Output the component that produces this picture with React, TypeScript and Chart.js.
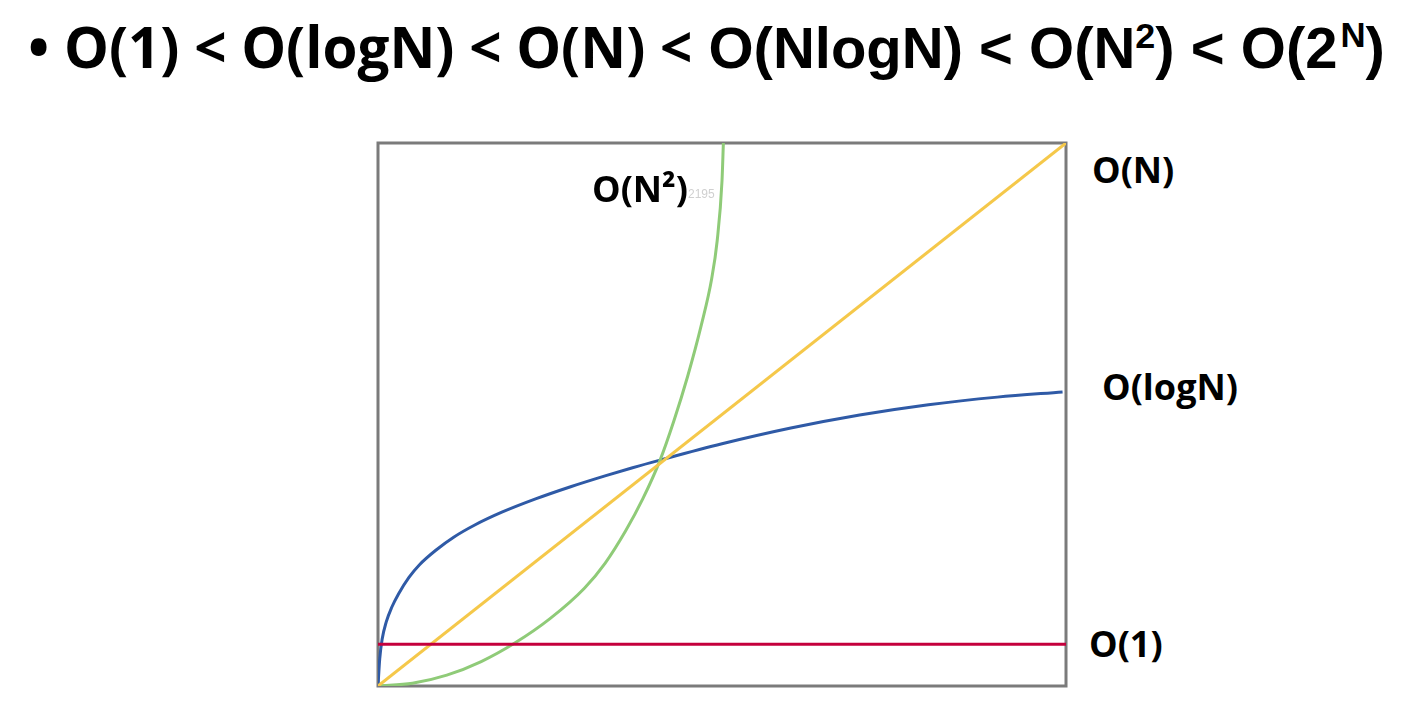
import React, { useEffect, useRef } from "react";
import { Chart, registerables } from "chart.js";

Chart.register(...registerables);

// Complexity curves (x: input size 0..100, y: cost 0..100)
const constX = [-0.4, 100];
const constY = [7.7, 7.7];

const logX = [0, 0.25, 0.6, 1.2, 2, 3, 4.5, 6, 8.5, 11, 14, 18, 23, 28, 33, 37, 41, 50, 60, 70, 80, 90, 99.5];
const logY = [0, 5.0, 8.6, 11.8, 14.5, 17.0, 20.0, 22.3, 25.1, 27.4, 29.6, 32.0, 34.5, 36.7, 38.7, 40.2, 41.6, 44.6, 47.5, 49.9, 51.8, 53.2, 54.15];

const linX = [0, 100];
const linY = [0, 100];

const sqX = [0, 5, 10, 15, 20, 25, 30, 33, 36, 38.5, 41, 43, 45, 47, 48.5, 49.3, 50, 50.2];
const sqY = [0, 0.5, 2.0, 4.5, 8.0, 12.4, 18.0, 22.6, 28.6, 34.5, 41.6, 48.8, 57.0, 66.5, 75.0, 82.0, 93.0, 100];

const seriesNames = ["O(1)", "O(logN)", "O(N)", "O(N²)"];

const pts = (xs: number[], ys: number[]) => xs.map((x, i) => ({ x, y: ys[i] }));

const borderPlugin = {
  id: "boxBorder",
  beforeDatasetsDraw(chart: any) {
    const { ctx, chartArea } = chart;
    ctx.save();
    ctx.strokeStyle = "#7b7b7b";
    ctx.lineWidth = 3;
    ctx.strokeRect(chartArea.left, chartArea.top, chartArea.right - chartArea.left, chartArea.bottom - chartArea.top);
    ctx.restore();
  },
};

const labelStyle: React.CSSProperties = {
  position: "absolute",
  fontFamily: "'Open Sans', sans-serif",
  fontWeight: 700,
  fontSize: 36,
  lineHeight: 1,
  color: "#000",
  whiteSpace: "nowrap",
};

export default function App() {
  const ref = useRef<HTMLCanvasElement>(null);

  useEffect(() => {
    if (!ref.current) return;
    const chart = new Chart(ref.current, {
      type: "line",
      data: {
        datasets: [
          { label: seriesNames[0], data: pts(constX, constY), borderColor: "#c4003c", borderWidth: 3 },
          { label: seriesNames[2], data: pts(linX, linY), borderColor: "#f5c84a", borderWidth: 3 },
          { label: seriesNames[3], data: pts(sqX, sqY), borderColor: "#8fcb78", borderWidth: 3, cubicInterpolationMode: "monotone" },
          { label: seriesNames[1], data: pts(logX, logY), borderColor: "#2f5aa6", borderWidth: 3, cubicInterpolationMode: "monotone" },
        ] as any,
      },
      options: {
        animation: false,
        responsive: false,
        devicePixelRatio: 1,
        layout: { padding: 8 },
        elements: { point: { radius: 0 } },
        plugins: { legend: { display: false }, tooltip: { enabled: false } },
        scales: {
          x: { type: "linear", min: 0, max: 100, display: false },
          y: { type: "linear", min: 0, max: 100, display: false },
        },
      },
      plugins: [borderPlugin],
    });
    return () => chart.destroy();
  }, []);

  return (
    <div style={{ position: "absolute", left: 0, top: 0, width: 1402, height: 721, background: "#fff", overflow: "hidden" }}>
      <div
        style={{
          position: "absolute",
          left: 28,
          top: 19,
          fontSize: 56.5,
          fontWeight: 700,
          lineHeight: 1,
          whiteSpace: "nowrap",
          color: "#000",
        }}
      >
        <span style={{ fontFamily: "'Open Sans', sans-serif" }}>• O(1) &lt; O(logN) &lt; O(N) &lt;</span>
        <span style={{ fontFamily: "'Liberation Sans', Arial, sans-serif", fontSize: 58, marginLeft: 0 }}>
          {" "}O(NlogN) &lt; O(N<sup style={{ fontSize: "0.62em", verticalAlign: "0.55em", lineHeight: 0 }}>2</sup>) &lt; O(2<sup style={{ fontSize: "0.6em", verticalAlign: "0.6em", lineHeight: 0, marginLeft: 3 }}>N</sup>)
        </span>
      </div>
      <canvas
        ref={ref}
        width={704}
        height={559}
        style={{ position: "absolute", left: 370, top: 135, width: 704, height: 559 }}
      />
      <div style={{ ...labelStyle, left: 592, top: 171 }}>O(N²)</div>
      <div style={{ position: "absolute", left: 688, top: 187, fontFamily: "'Liberation Sans', sans-serif", fontSize: 12, color: "#d0d0d0", whiteSpace: "nowrap" }}>2195</div>
      <div style={{ ...labelStyle, left: 1092, top: 152 }}>O(N)</div>
      <div style={{ ...labelStyle, left: 1102, top: 369 }}>O(logN)</div>
      <div style={{ ...labelStyle, left: 1089, top: 626 }}>O(1)</div>
    </div>
  );
}
